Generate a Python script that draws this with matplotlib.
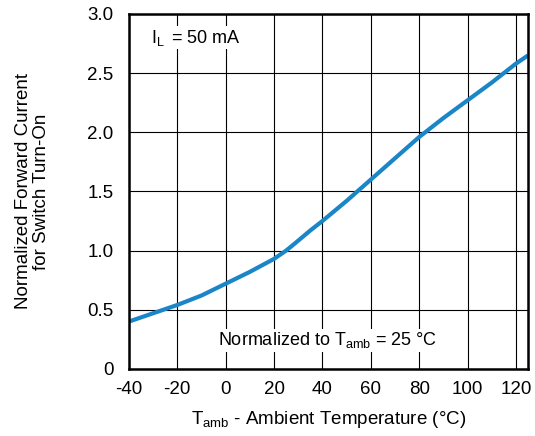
import matplotlib
matplotlib.use("Agg")
import matplotlib.pyplot as plt

plt.rcParams['font.family'] = ['Liberation Sans', 'DejaVu Sans']
plt.rcParams['mathtext.fontset'] = 'custom'
plt.rcParams['mathtext.rm'] = 'Liberation Sans'
plt.rcParams['mathtext.it'] = 'Liberation Sans'
plt.rcParams['axes.unicode_minus'] = False

# curve
temp = [-40, -30, -20, -10, 0, 10, 20, 25, 28, 35, 40, 50, 60, 70, 80, 90, 100, 110, 120, 125]
current = [0.40, 0.47, 0.54, 0.62, 0.72, 0.82, 0.93, 1.00, 1.05, 1.17, 1.25, 1.42, 1.60, 1.78, 1.96, 2.12, 2.27, 2.42, 2.58, 2.65]

x_ticks = [-40, -20, 0, 20, 40, 60, 80, 100, 120]
y_ticks = [0, 0.5, 1.0, 1.5, 2.0, 2.5, 3.0]
y_labels = ["0", "0.5", "1.0", "1.5", "2.0", "2.5", "3.0"]

fig = plt.figure(figsize=(5.35, 4.36), dpi=100)
ax = fig.add_axes([0.241, 0.154, 0.746, 0.814])

ax.plot(temp, current, color='#1a86c8', linewidth=3, solid_capstyle='butt')

ax.set_xlim(-40, 125)
ax.set_ylim(0, 3.0)
ax.set_xticks(x_ticks)
ax.set_yticks(y_ticks)
ax.set_yticklabels(y_labels)
ax.tick_params(length=0, labelsize=13.5)
ax.tick_params(axis='x', pad=9)
ax.tick_params(axis='y', pad=11)
ax.grid(True, color='black', linewidth=0.8)
ax.set_axisbelow(True)
for s in ax.spines.values():
    s.set_linewidth(1.8)

box = dict(facecolor='white', edgecolor='none', pad=1)
ax.text(-31, 2.80, r'$\mathrm{I_L}\,$ = 50 mA', fontsize=13, va='center', ha='left', bbox=box)
ax.text(42, 0.24, r'Normalized to $\mathrm{T_{amb}}$ = 25 °C', fontsize=13,
        va='center', ha='center', bbox=box)

ax.set_xlabel(r'$\mathrm{T_{amb}}$ - Ambient Temperature (°C)', fontsize=13.5)
ax.set_ylabel('Normalized Forward Current\nfor Switch Turn-On', fontsize=13.5, linespacing=1.1)
ax.xaxis.set_label_coords(0.5, -0.113)
ax.yaxis.set_label_coords(-0.198, 0.5)

fig.savefig('out.png', dpi=100)
